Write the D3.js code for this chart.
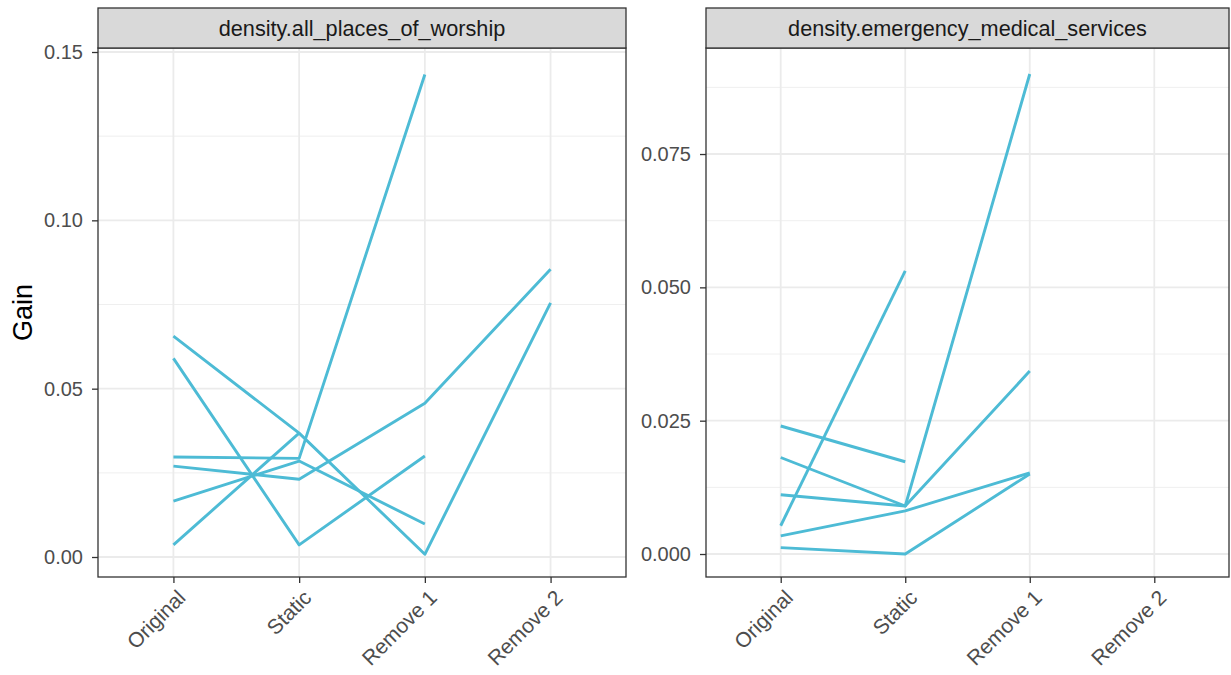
<!DOCTYPE html>
<html><head><meta charset="utf-8">
<script src="https://cdn.jsdelivr.net/npm/d3@7"></script>
<style>body{margin:0;background:#fff}svg{display:block}text{font-family:"Liberation Sans",Arial,sans-serif}</style>
</head><body><svg id="c" width="1231" height="675"></svg>
<script>
const categories = ["Original", "Static", "Remove 1", "Remove 2"];
const panelTitles = ["density.all_places_of_worship", "density.emergency_medical_services"];
const worshipSeries = [
  [0.0656, 0.0368, 0.0008, 0.0755],
  [0.0590, 0.0036, 0.0300, null],
  [0.0297, 0.0293, 0.1433, null],
  [0.0270, 0.0231, 0.0457, 0.0855],
  [0.0166, 0.0285, 0.0098, null],
  [0.0036, 0.0368, null, null]
];
const emsSeries = [
  [0.0240, 0.0173, null, null],
  [0.0181, 0.0090, 0.0900, null],
  [0.0111, 0.0090, 0.0343, null],
  [0.0053, 0.0531, null, null],
  [0.0034, 0.0081, 0.0152, null],
  [0.0012, 0.0000, 0.0150, null]
];
const worshipTicks = [0, 0.05, 0.10, 0.15];
const worshipMinor = [0.025, 0.075, 0.125];
const emsTicks = [0, 0.025, 0.05, 0.075];
const emsMinor = [0.0125, 0.0375, 0.0625, 0.0875];

const svg = d3.select("#c");
const plotTop = 48, plotBottom = 577, stripTop = 8;
const lineColor = "#4DBBD5";
const tickFont = 20;

const panels = [
  {x0: 98, x1: 626, title: panelTitles[0], series: worshipSeries, ticks: worshipTicks, minor: worshipMinor,
   domain: [-0.00594, 0.15119], fmt: d3.format(".2f")},
  {x0: 706, x1: 1229, title: panelTitles[1], series: emsSeries, ticks: emsTicks, minor: emsMinor,
   domain: [-0.00431, 0.09488], fmt: d3.format(".3f")}
];

panels.forEach(p => {
  const x = d3.scalePoint().domain(categories).range([p.x0, p.x1]).padding(0.6);
  const y = d3.scaleLinear().domain(p.domain).range([plotBottom, plotTop]);
  const g = svg.append("g");
  g.selectAll(".mn").data(p.minor).join("line")
    .attr("x1", p.x0).attr("x2", p.x1).attr("y1", d => y(d)).attr("y2", d => y(d))
    .attr("stroke", "#ededed").attr("stroke-width", 0.9);
  g.selectAll(".mj").data(p.ticks).join("line")
    .attr("x1", p.x0).attr("x2", p.x1).attr("y1", d => y(d)).attr("y2", d => y(d))
    .attr("stroke", "#ebebeb").attr("stroke-width", 1.8);
  g.selectAll(".vx").data(categories).join("line")
    .attr("x1", d => x(d)).attr("x2", d => x(d)).attr("y1", plotTop).attr("y2", plotBottom)
    .attr("stroke", "#ebebeb").attr("stroke-width", 1.8);
  const line = d3.line().defined(d => d.v !== null).x(d => x(d.c)).y(d => y(d.v));
  p.series.forEach(s => {
    const pts = s.map((v, i) => ({c: categories[i], v}));
    g.append("path").attr("d", line(pts)).attr("fill", "none")
      .attr("stroke", lineColor).attr("stroke-width", 2.9).attr("stroke-linejoin", "round");
  });
  g.append("rect").attr("x", p.x0).attr("y", plotTop).attr("width", p.x1 - p.x0).attr("height", plotBottom - plotTop)
    .attr("fill", "none").attr("stroke", "#333").attr("stroke-width", 1.3);
  g.append("rect").attr("x", p.x0).attr("y", stripTop).attr("width", p.x1 - p.x0).attr("height", plotTop - stripTop)
    .attr("fill", "#d9d9d9").attr("stroke", "#333").attr("stroke-width", 1.3);
  g.append("text").attr("x", (p.x0 + p.x1) / 2).attr("y", (stripTop + plotTop) / 2).attr("dy", "0.36em")
    .attr("text-anchor", "middle").attr("font-size", 21.7).attr("fill", "#1a1a1a").text(p.title);
  const ya = g.append("g").attr("transform", `translate(${p.x0},0)`)
    .call(d3.axisLeft(y).tickValues(p.ticks).tickFormat(p.fmt).tickSize(6).tickPadding(9));
  ya.select(".domain").remove();
  ya.selectAll(".tick line").attr("stroke", "#333").attr("stroke-width", 1.3);
  ya.selectAll(".tick text").attr("font-size", tickFont).attr("fill", "#4d4d4d").attr("font-family", "Liberation Sans, Arial, sans-serif");
  const xa = g.append("g").attr("transform", `translate(0,${plotBottom})`)
    .call(d3.axisBottom(x).tickSize(6).tickPadding(4));
  xa.select(".domain").remove();
  xa.selectAll(".tick line").attr("stroke", "#333").attr("stroke-width", 1.3);
  xa.selectAll(".tick text").attr("font-size", 21).attr("fill", "#4d4d4d")
    .attr("font-family", "Liberation Sans, Arial, sans-serif")
    .attr("text-anchor", "end").attr("y", 0).attr("dy", 0)
    .attr("transform", "translate(13,22) rotate(-45)");
});

svg.append("text").attr("transform", `translate(32,${(plotTop + plotBottom) / 2}) rotate(-90)`)
  .attr("text-anchor", "middle").attr("font-size", 27).attr("fill", "#000").text("Gain");
</script></body></html>
